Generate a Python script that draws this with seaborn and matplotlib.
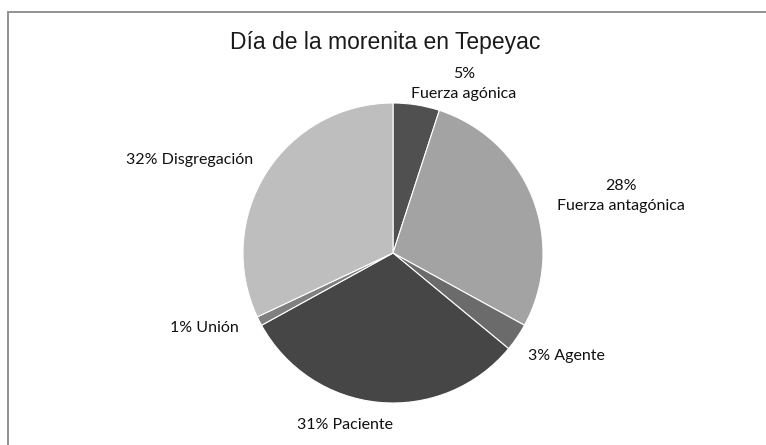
import matplotlib
matplotlib.use("Agg")
import matplotlib.pyplot as plt
import seaborn as sns

# chart data
categories = ["Fuerza agónica", "Fuerza antagónica", "Agente", "Paciente", "Unión", "Disgregación"]
percents = [5, 28, 3, 31, 1, 32]
slice_colors = ["#505050", "#a3a3a3", "#6b6b6b", "#464646", "#808080", "#bebebe"]

sns.set_style("white")
plt.rcParams['font.family'] = ['Liberation Sans', 'DejaVu Sans']

W, H = 766, 445
fig = plt.figure(figsize=(W / 100, H / 100), dpi=100)

# outer chart frame (clipped at right and bottom like the screenshot)
frame = plt.Rectangle((7.5 / W, -0.1), 1.2, 1 - 11.5 / H + 0.1, transform=fig.transFigure,
                      fill=False, edgecolor="#8a8a8a", linewidth=1.3)
fig.patches.append(frame)

# pie axes: centre (393, 253) px, radius 150 px
cx, cy, r = 393, 253, 150
ax = fig.add_axes([(cx - r) / W, (H - cy - r) / H, 2 * r / W, 2 * r / H])
ax.pie(percents, colors=slice_colors, startangle=90, counterclock=False,
       wedgeprops=dict(edgecolor="white", linewidth=0.8))
ax.set_xlim(-1, 1)
ax.set_ylim(-1, 1)
ax.set_aspect("auto")
ax.axis("off")

fig.text(385 / W, 1 - 42 / H, "Día de la morenita en Tepeyac", ha="center", va="center",
         fontsize=16.5, color="#1a1a1a")

# label positions in pixels (x, y)
label_pos = [(464, 84), (621, 196), (566, 356), (345, 425), (204, 328), (190, 160)]
label_text = [
    f"{percents[0]}%\n{categories[0]}",
    f"{percents[1]}%\n{categories[1]}",
    f"{percents[2]}% {categories[2]}",
    f"{percents[3]}% {categories[3]}",
    f"{percents[4]}% {categories[4]}",
    f"{percents[5]}% {categories[5]}",
]
for (x, y), t in zip(label_pos, label_text):
    fig.text(x / W, 1 - y / H, t, ha="center", va="center", fontsize=11.5,
             color="#111111", family=["Lato", "DejaVu Sans"], linespacing=1.5)

plt.savefig("out.png", dpi=100)
